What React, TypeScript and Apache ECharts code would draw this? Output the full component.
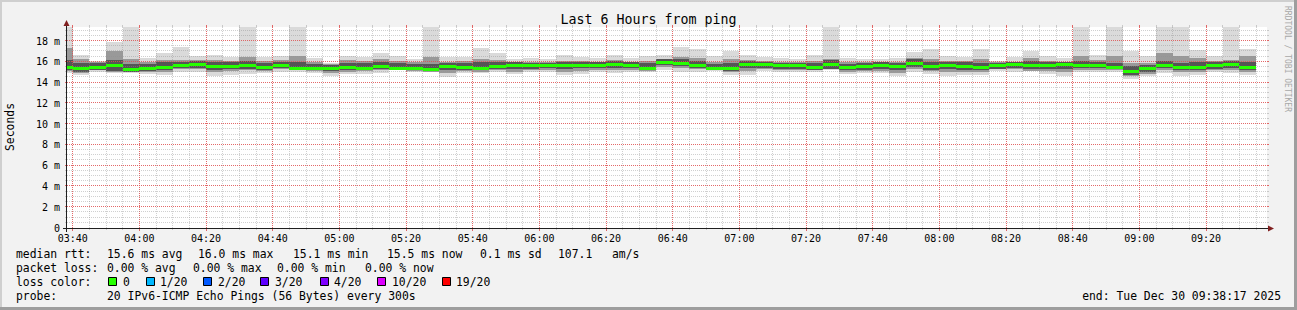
import React, { useEffect, useRef } from "react";
import * as echarts from "echarts";

// ---- time slots (start of each 5-minute RRD step) ----
const SLOTS = [
  "03:35", "03:40", "03:45", "03:50", "03:55",
  "04:00", "04:05", "04:10", "04:15", "04:20", "04:25", "04:30", "04:35", "04:40", "04:45", "04:50", "04:55",
  "05:00", "05:05", "05:10", "05:15", "05:20", "05:25", "05:30", "05:35", "05:40", "05:45", "05:50", "05:55",
  "06:00", "06:05", "06:10", "06:15", "06:20", "06:25", "06:30", "06:35", "06:40", "06:45", "06:50", "06:55",
  "07:00", "07:05", "07:10", "07:15", "07:20", "07:25", "07:30", "07:35", "07:40", "07:45", "07:50", "07:55",
  "08:00", "08:05", "08:10", "08:15", "08:20", "08:25", "08:30", "08:35", "08:40", "08:45", "08:50", "08:55",
  "09:00", "09:05", "09:10", "09:15", "09:20", "09:25", "09:30",
];

// ---- smoke (ms): outer max, mid top, core top, median, core bottom, mid bottom, min ----
const SMOKE_MAX = [
  20.5, 16.7, 16.1, 17.9, 20.5, 16.4, 16.8, 17.4, 16.6, 16.7, 16.5, 20.5,
  16.5, 16.6, 20.5, 16.4, 15.9, 16.6, 16.5, 16.8, 16.6, 16.3, 20.5, 16.5,
  16.5, 17.3, 16.8, 16.3, 16.4, 16.3, 16.7, 16.5, 16.4, 16.7, 16.4, 16.6,
  16.7, 17.4, 17.2, 16.6, 17.0, 16.7, 16.5, 16.4, 16.3, 16.7, 20.5, 16.4,
  16.3, 16.3, 16.4, 16.9, 17.2, 16.6, 16.5, 17.2, 16.1, 16.5, 17.0, 16.6,
  16.4, 20.5, 16.7, 20.5, 17.0, 16.6, 20.5, 20.5, 17.1, 16.6, 20.5, 17.2,
];
const SMOKE_HI = [
  17.3, 16.3, 15.95, 17.0, 16.3, 16.0, 16.2, 16.2, 16.2, 16.2, 16.1, 16.5,
  16.1, 16.2, 16.6, 16.0, 15.75, 16.2, 16.1, 16.3, 16.1, 16.0, 16.5, 16.0,
  16.1, 16.3, 16.2, 16.0, 16.0, 16.0, 16.1, 16.1, 16.0, 16.2, 16.0, 16.1,
  16.3, 16.5, 16.4, 16.0, 16.3, 16.2, 16.1, 16.0, 16.0, 16.1, 16.3, 16.0,
  16.0, 16.0, 16.0, 16.4, 16.3, 16.1, 16.1, 16.3, 15.95, 16.0, 16.4, 16.1,
  16.0, 16.6, 16.2, 16.6, 15.9, 15.9, 16.8, 16.6, 16.4, 16.1, 16.2, 16.6,
];
const SMOKE_CORE_HI = [
  16.2, 15.85, 15.85, 16.2, 15.75, 15.8, 15.95, 16.0, 16.1, 16.0, 15.95, 16.05,
  15.85, 16.0, 15.95, 15.8, 15.65, 15.9, 15.85, 16.0, 15.85, 15.8, 15.75, 15.9,
  15.9, 16.0, 16.0, 15.95, 15.9, 15.9, 16.0, 16.0, 15.95, 16.1, 15.95, 15.85,
  16.25, 16.3, 16.1, 15.8, 15.85, 16.1, 16.0, 15.9, 15.9, 15.85, 16.15, 15.8,
  15.85, 15.95, 15.9, 16.25, 15.95, 15.95, 15.95, 15.9, 15.9, 15.98, 16.1, 15.95,
  15.98, 16.05, 16.0, 15.9, 15.55, 15.7, 16.05, 15.9, 15.95, 16.0, 16.05, 15.95,
];
const MEDIAN = [
  15.5, 15.4, 15.5, 15.7, 15.3, 15.4, 15.5, 15.7, 15.8, 15.6, 15.6, 15.7,
  15.5, 15.7, 15.45, 15.45, 15.45, 15.5, 15.45, 15.6, 15.45, 15.45, 15.3, 15.6,
  15.5, 15.45, 15.6, 15.7, 15.65, 15.65, 15.7, 15.7, 15.7, 15.8, 15.7, 15.45,
  16.0, 15.9, 15.7, 15.45, 15.4, 15.8, 15.75, 15.65, 15.65, 15.5, 15.8, 15.5,
  15.55, 15.7, 15.6, 15.9, 15.55, 15.7, 15.6, 15.5, 15.7, 15.8, 15.7, 15.65,
  15.8, 15.65, 15.7, 15.5, 15.15, 15.4, 15.7, 15.5, 15.5, 15.7, 15.8, 15.5,
];
const SMOKE_CORE_LO = [
  15.2, 15.0, 15.25, 15.1, 15.05, 15.15, 15.2, 15.4, 15.45, 15.25, 15.3, 15.35,
  15.2, 15.4, 15.25, 15.2, 15.1, 15.2, 15.2, 15.3, 15.3, 15.2, 15.15, 15.25,
  15.25, 15.2, 15.35, 15.3, 15.35, 15.4, 15.35, 15.4, 15.4, 15.45, 15.4, 15.2,
  15.65, 15.55, 15.4, 15.25, 15.1, 15.4, 15.45, 15.35, 15.35, 15.25, 15.3, 15.2,
  15.25, 15.35, 15.2, 15.5, 15.25, 15.3, 15.25, 15.2, 15.35, 15.45, 15.3, 15.35,
  15.35, 15.4, 15.4, 15.3, 14.75, 15.0, 15.4, 15.2, 15.2, 15.35, 15.45, 15.2,
];
const SMOKE_LO = [
  15.1, 14.95, 15.2, 15.05, 15.0, 15.0, 15.0, 15.3, 15.3, 15.0, 15.1, 15.2,
  15.1, 15.3, 15.2, 15.1, 14.9, 15.0, 15.1, 15.2, 15.25, 15.1, 15.05, 14.9,
  15.1, 15.05, 15.2, 15.0, 15.2, 15.2, 15.0, 15.1, 15.25, 15.2, 15.25, 15.1,
  15.5, 15.4, 15.3, 15.2, 15.0, 15.1, 15.3, 15.2, 15.2, 15.2, 15.3, 15.0,
  15.1, 15.1, 14.9, 15.3, 15.1, 15.0, 15.0, 15.0, 15.3, 15.3, 15.15, 15.1,
  15.0, 15.2, 15.25, 15.2, 14.6, 14.8, 15.2, 15.0, 15.0, 15.2, 15.2, 15.0,
];
const SMOKE_MIN = [
  14.9, 14.7, 15.0, 14.9, 14.9, 14.8, 14.7, 15.0, 15.05, 14.6, 14.7, 14.8,
  14.9, 15.05, 15.05, 14.9, 14.6, 14.8, 14.8, 14.9, 15.2, 15.05, 15.0, 14.5,
  14.9, 14.9, 15.05, 14.8, 15.05, 15.05, 14.7, 14.8, 15.05, 14.9, 15.05, 15.0,
  15.2, 15.05, 15.05, 15.1, 14.7, 14.7, 15.1, 15.05, 15.05, 15.05, 15.25, 14.8,
  14.9, 14.9, 14.6, 15.0, 14.8, 14.6, 14.7, 14.7, 15.1, 15.05, 15.1, 14.8,
  14.6, 15.05, 15.05, 15.05, 14.35, 14.6, 14.9, 14.6, 14.7, 15.0, 14.9, 14.7,
];

// ---- axes ----
const X_TICKS = [
  "03:40", "04:00", "04:20", "04:40", "05:00", "05:20", "05:40", "06:00", "06:20",
  "06:40", "07:00", "07:20", "07:40", "08:00", "08:20", "08:40", "09:00", "09:20",
];
const Y_TICKS = [0, 2, 4, 6, 8, 10, 12, 14, 16, 18];
const Y_MAX = 19.35;
const Y_MINOR = 0.5;
const WINDOW_START = "03:38:17";
const WINDOW_END = "09:38:17";
const STEP_MIN = 5;

// ---- texts ----
const TITLE = "Last 6 Hours from ping";
const Y_NAME = "Seconds";
const CREDIT = "RRDTOOL / TOBI OETIKER";
const RTT_LABEL = "median rtt:";
const RTT_STATS = ["15.6 ms avg", "16.0 ms max", "15.1 ms min", "15.5 ms now", "0.1 ms sd", "107.1", "am/s"];
const LOSS_LABEL = "packet loss:";
const LOSS_STATS = ["0.00 % avg", "0.00 % max", "0.00 % min", "0.00 % now"];
const LOSS_COLOR_LABEL = "loss color:";
const LOSS_LABELS = ["0", "1/20", "2/20", "3/20", "4/20", "10/20", "19/20"];
const LOSS_COLORS = ["#26ff00", "#00b8ff", "#0059ff", "#5e00ff", "#7e00ff", "#dd00ff", "#ff0000"];
const PROBE_LABEL = "probe:";
const PROBE = "20 IPv6-ICMP Echo Pings (56 Bytes) every 300s";
const END_LABEL = "end: Tue Dec 30 09:38:17 2025";

// ---- layout / style ----
const W = 1297;
const H = 310;
const GRID = { left: 67, top: 27, width: 1200, height: 201 };
const MONO = "'DejaVu Sans Mono', monospace";
const LEG_FONT = 11.4;
const RTT_X = [107, 198, 293, 387, 480, 558, 612];
const LOSS_X = [107, 193, 277, 365];
const BOX_X = [108, 146, 203, 260, 320, 377, 442];
const BOXLBL_X = [123, 160, 218, 275, 334, 392, 456];
const ROW_Y = [254, 268, 282, 296];
const C_OUTER = "#dadada";
const C_MID = "#999999";
const C_CORE = "#555555";
const C_MEDIAN = LOSS_COLORS[0];
const C_GRID = "rgba(143,143,143,0.42)";
const C_MGRID = "rgba(222,79,79,0.85)";

function toMin(s: string): number {
  const p = s.split(":").map(Number);
  return p[0] * 60 + p[1] + (p[2] || 0) / 60;
}
function fmtMin(v: number): string {
  const h = Math.floor(v / 60);
  const m = Math.round(v - h * 60);
  return String(h).padStart(2, "0") + ":" + String(m).padStart(2, "0");
}

const X_MIN = toMin(WINDOW_START);
const X_MAX = toMin(WINDOW_END);

const smokeData = SLOTS.map((s, i) => [
  toMin(s), toMin(s) + STEP_MIN,
  SMOKE_MAX[i], SMOKE_HI[i], SMOKE_CORE_HI[i], MEDIAN[i], SMOKE_CORE_LO[i], SMOKE_LO[i], SMOKE_MIN[i],
]);

const majorX = X_TICKS.map(toMin);
const vGridData: number[][] = [];
for (let t = Math.ceil(X_MIN / STEP_MIN) * STEP_MIN; t < X_MAX; t += STEP_MIN) {
  vGridData.push([t, majorX.includes(t) ? 1 : 0]);
}
const hGridData: number[][] = [];
for (let v = Y_MINOR; v < Y_MAX; v += Y_MINOR) {
  const r = Math.round(v * 100) / 100;
  hGridData.push([r, Y_TICKS.includes(r) ? 1 : 0]);
}

function seg(x1: number, y1: number, x2: number, y2: number, stroke: string, dash?: number[]) {
  return {
    type: "line",
    shape: { x1, y1, x2, y2 },
    style: { stroke, lineWidth: 1, lineDash: dash || null },
  };
}

function txt(text: string, x: number, y: number, opts: any = {}) {
  return {
    type: "text",
    x,
    y,
    rotation: opts.rotation || 0,
    silent: true,
    style: {
      text,
      fill: opts.fill || "#000",
      font: `${opts.size || LEG_FONT}px ${MONO}`,
      fontSize: opts.size || LEG_FONT,
      fontFamily: MONO,
      textAlign: opts.align || "left",
      align: opts.align || "left",
      textVerticalAlign: "middle",
      verticalAlign: "middle",
    },
  };
}

function buildOption() {
  const gx0 = GRID.left;
  const gx1 = GRID.left + GRID.width;
  const gy0 = GRID.top;
  const gy1 = GRID.top + GRID.height;

  const graphics: any[] = [
    // frame shading
    { type: "rect", shape: { x: 0, y: 0, width: W, height: 2 }, style: { fill: "#cfcfcf" }, silent: true },
    { type: "rect", shape: { x: 0, y: 0, width: 2, height: H }, style: { fill: "#cfcfcf" }, silent: true },
    { type: "rect", shape: { x: 0, y: H - 3, width: W, height: 3 }, style: { fill: "#9e9e9e" }, silent: true },
    { type: "rect", shape: { x: W - 3, y: 0, width: 3, height: H }, style: { fill: "#9e9e9e" }, silent: true },
    // axes
    { ...seg(gx0 - 4, gy1 + 0.5, gx1 + 3, gy1 + 0.5, "#1f1f1f"), silent: true, z: 50 },
    { ...seg(gx0 - 0.5, gy1 + 4, gx0 - 0.5, gy0 - 3, "#1f1f1f"), silent: true, z: 50 },
    {
      type: "polygon", silent: true, z: 51,
      shape: { points: [[gx0 - 3.5, gy0 - 1], [gx0 + 2.5, gy0 - 1], [gx0 - 0.5, gy0 - 7]] },
      style: { fill: "#801f1f" },
    },
    {
      type: "polygon", silent: true, z: 51,
      shape: { points: [[gx1 + 1, gy1 - 2.5], [gx1 + 1, gy1 + 3.5], [gx1 + 7, gy1 + 0.5]] },
      style: { fill: "#801f1f" },
    },
    // title, axis name, credit
    txt(TITLE, W / 2, 19, { size: 13.3, align: "center" }),
    txt(Y_NAME, 10, 127, { size: LEG_FONT, align: "center", rotation: Math.PI / 2 }),
    txt(CREDIT, 1287, 59, { size: 8, align: "center", rotation: -Math.PI / 2, fill: "#a8a8a8" }),
    // legend row 1
    txt(RTT_LABEL, 16, ROW_Y[0]),
    ...RTT_STATS.map((s, i) => txt(s, RTT_X[i], ROW_Y[0])),
    // legend row 2
    txt(LOSS_LABEL, 16, ROW_Y[1]),
    ...LOSS_STATS.map((s, i) => txt(s, LOSS_X[i], ROW_Y[1])),
    // legend row 3
    txt(LOSS_COLOR_LABEL, 16, ROW_Y[2]),
    ...LOSS_COLORS.map((c, i) => ({
      type: "rect", silent: true,
      shape: { x: BOX_X[i] + 0.5, y: ROW_Y[2] - 4.5, width: 8, height: 8 },
      style: { fill: c, stroke: "#000", lineWidth: 1 },
    })),
    ...LOSS_LABELS.map((s, i) => txt(s, BOXLBL_X[i], ROW_Y[2])),
    // legend row 4
    txt(PROBE_LABEL, 16, ROW_Y[3]),
    txt(PROBE, 107, ROW_Y[3]),
    txt(END_LABEL, 1281, ROW_Y[3], { align: "right" }),
  ];

  return {
    animation: false,
    backgroundColor: "#f2f2f2",
    grid: {
      left: GRID.left, top: GRID.top, width: GRID.width, height: GRID.height,
      show: true, backgroundColor: "#ffffff", borderWidth: 0,
    },
    xAxis: {
      type: "value",
      min: X_MIN,
      max: X_MAX,
      axisLine: { show: false },
      axisTick: { show: false },
      splitLine: { show: false },
      axisLabel: {
        customValues: X_TICKS.map(toMin),
        formatter: (v: number) => fmtMin(v),
        fontFamily: MONO,
        fontSize: 10,
        color: "#000",
        margin: 5,
      },
    },
    yAxis: {
      type: "value",
      min: 0,
      max: Y_MAX,
      axisLine: { show: false },
      axisTick: { show: false },
      splitLine: { show: false },
      axisLabel: {
        customValues: Y_TICKS,
        formatter: (v: number) => (v === 0 ? "0" : `${v} m`),
        fontFamily: MONO,
        fontSize: 10,
        color: "#000",
        margin: 7,
      },
    },
    graphic: graphics,
    series: [
      {
        type: "custom",
        name: "smoke",
        coordinateSystem: "cartesian2d",
        silent: true,
        clip: true,
        z: 2,
        encode: { x: [0, 1], y: [2, 8] },
        data: smokeData,
        renderItem: (params: any, api: any) => {
          const cs = params.coordSys;
          const t0 = api.value(0);
          const xa = Math.max(Math.round(api.coord([t0, 0])[0]), cs.x);
          const xb = Math.min(Math.round(api.coord([api.value(1), 0])[0]), cs.x + cs.width);
          const yOf = (v: number) => Math.max(Math.round(api.coord([t0, v])[1]), cs.y);
          const band = (hi: number, lo: number, fill: string) => {
            const y1 = yOf(api.value(hi));
            const y2 = yOf(api.value(lo));
            return { type: "rect", shape: { x: xa, y: y1, width: xb - xa, height: y2 - y1 }, style: { fill } };
          };
          return {
            type: "group",
            children: [
              band(2, 8, C_OUTER),
              band(3, 7, C_MID),
              band(4, 6, C_CORE),
            ],
          };
        },
      },
      {
        type: "custom",
        name: "vgrid",
        coordinateSystem: "cartesian2d",
        silent: true,
        clip: false,
        z: 3,
        encode: { x: 0 },
        data: vGridData,
        renderItem: (params: any, api: any) => {
          const cs = params.coordSys;
          const major = api.value(1) === 1;
          const x = Math.floor(api.coord([api.value(0), 0])[0]) + 0.5;
          const col = major ? C_MGRID : C_GRID;
          const top = cs.y;
          const bot = cs.y + cs.height;
          return {
            type: "group",
            children: [
              seg(x, top - 2, x, top, col),
              seg(x, top, x, bot, col, [1, 1]),
              seg(x, bot, x, bot + (major ? 3 : 2), col),
            ],
          };
        },
      },
      {
        type: "custom",
        name: "hgrid",
        coordinateSystem: "cartesian2d",
        silent: true,
        clip: false,
        z: 3,
        encode: { y: 1 },
        data: hGridData.map((d) => [X_MIN, d[0], d[1]]),
        renderItem: (params: any, api: any) => {
          const cs = params.coordSys;
          const major = api.value(2) === 1;
          const y = Math.round(api.coord([api.value(0), api.value(1)])[1]) - 0.5;
          const col = major ? C_MGRID : C_GRID;
          const l = cs.x;
          const r = cs.x + cs.width;
          return {
            type: "group",
            children: [
              seg(l - 2, y, l, y, col),
              seg(l, y, r, y, col, [1, 1]),
              seg(r, y, r + 2, y, col),
            ],
          };
        },
      },
      {
        type: "custom",
        name: "median",
        coordinateSystem: "cartesian2d",
        silent: true,
        clip: true,
        z: 4,
        encode: { x: [0, 1], y: 5 },
        data: smokeData,
        renderItem: (params: any, api: any) => {
          const cs = params.coordSys;
          const t0 = api.value(0);
          const xa = Math.max(Math.round(api.coord([t0, 0])[0]), cs.x);
          const xb = Math.min(Math.round(api.coord([api.value(1), 0])[0]), cs.x + cs.width);
          const ym = Math.round(api.coord([t0, api.value(5)])[1]);
          return {
            type: "rect",
            shape: { x: xa, y: ym - 1, width: xb - xa, height: 3 },
            style: { fill: C_MEDIAN },
          };
        },
      },
    ],
  };
}

export default function App() {
  const ref = useRef<HTMLDivElement>(null);
  useEffect(() => {
    if (!ref.current) return;
    const chart = echarts.init(ref.current, null, { renderer: "svg", width: W, height: H });
    chart.setOption(buildOption() as any);
    return () => chart.dispose();
  }, []);
  return (
    <div
      ref={ref}
      style={{ position: "fixed", left: 0, top: 0, width: W, height: H }}
    />
  );
}
